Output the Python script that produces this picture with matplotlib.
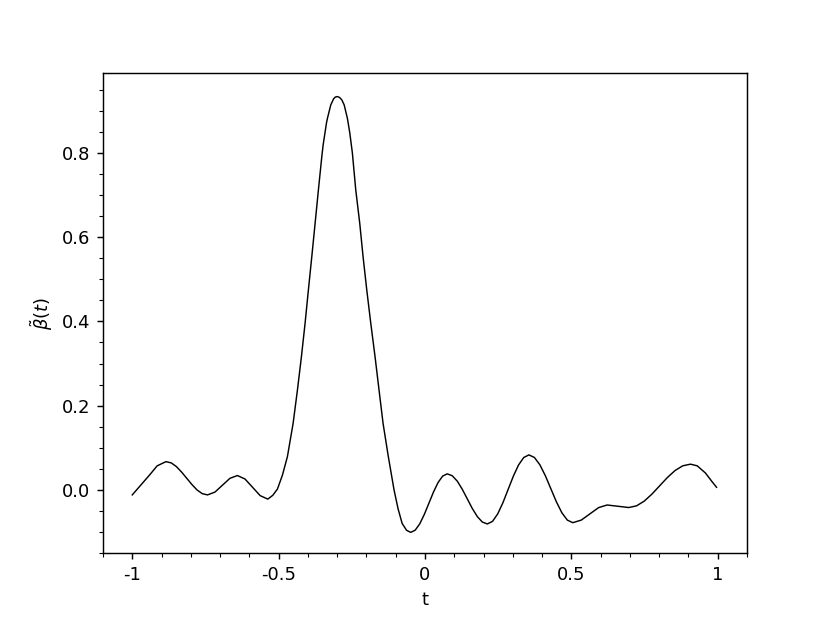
import numpy as np
import matplotlib
matplotlib.use("Agg")
from matplotlib import pyplot as plt
from matplotlib.ticker import MultipleLocator, FixedLocator, FixedFormatter

# curve (t, beta~(t))
t_vals = [-1.0, -0.97, -0.94, -0.915, -0.885, -0.867, -0.8495, -0.832, -0.814,
          -0.796, -0.7785, -0.761, -0.743, -0.7175, -0.692, -0.6665, -0.641,
          -0.615, -0.589, -0.563, -0.537, -0.520, -0.504, -0.487, -0.470,
          -0.4505, -0.4358, -0.4222, -0.4096, -0.3983, -0.3867, -0.3754,
          -0.3642, -0.3526, -0.348, -0.3369, -0.3334, -0.322, -0.312, -0.306,
          -0.2993, -0.292, -0.284, -0.276, -0.265, -0.257,
          -0.2481, -0.2365, -0.2229, -0.2116, -0.1990, -0.1853, -0.1706,
          -0.1570, -0.1433, -0.1253, -0.1058, -0.092, -0.078, -0.063, -0.0488,
          -0.0334, -0.0178, -0.0021, 0.0135, 0.0291, 0.0448, 0.0604, 0.076, 0.0931,
          0.1103, 0.1274, 0.1445, 0.1616, 0.1788, 0.1959, 0.213, 0.2308,
          0.2485, 0.2663, 0.284, 0.3018, 0.3195, 0.3373, 0.355, 0.3738, 0.3925,
          0.4113, 0.43, 0.4488, 0.4675, 0.4863, 0.505, 0.534, 0.5635, 0.593,
          0.622, 0.659, 0.696, 0.7224, 0.7488, 0.7751, 0.8015, 0.8279, 0.8543,
          0.8806, 0.907, 0.93, 0.958, 0.98, 0.996]
beta_vals = [-0.012, 0.012, 0.036, 0.057, 0.067, 0.064, 0.0554, 0.0426, 0.0275,
             0.0124, -0.0004, -0.009, -0.012, -0.0053, 0.011, 0.0273, 0.034,
             0.0258, 0.006, -0.0138, -0.022, -0.013, 0.002, 0.035, 0.079,
             0.158, 0.237, 0.316, 0.396, 0.475, 0.554, 0.633,
             0.712, 0.791, 0.819, 0.870, 0.882, 0.914, 0.929, 0.933,
             0.934, 0.932, 0.926, 0.914, 0.882, 0.848,
             0.800, 0.712, 0.633, 0.554, 0.475, 0.396, 0.316,
             0.237, 0.158, 0.079, 0.000, -0.045, -0.080, -0.096, -0.101,
             -0.0957, -0.0806, -0.058, -0.0315, -0.005, 0.0176, 0.0327, 0.038, 0.0335,
             0.0206, 0.0013, -0.0215, -0.0443, -0.0636, -0.0765, -0.081, -0.0748,
             -0.057, -0.0304, 0.001, 0.0324, 0.059, 0.0768, 0.083, 0.0769, 0.0594,
             0.0333, 0.0025, -0.0283, -0.0544, -0.0719, -0.078, -0.0718, -0.057, -0.0422,
             -0.036, -0.039, -0.042, -0.0381, -0.0269, -0.0102, 0.0095, 0.0292, 0.0459,
             0.0571, 0.061, 0.057, 0.040, 0.020, 0.006]

x_ticks = [-1, -0.5, 0, 0.5, 1]
x_tick_labels = ['-1', '-0.5', '0', '0.5', '1']
y_ticks = [0.0, 0.2, 0.4, 0.6, 0.8]
y_tick_labels = ['0.0', '0.2', '0.4', '0.6', '0.8']

fig = plt.figure(figsize=(830/130, 623/130), dpi=130)
ax = fig.add_subplot(111)
fig.subplots_adjust(left=103/830, right=747/830, top=1-73/623, bottom=1-553/623)
ax.plot(t_vals, beta_vals, color='black', linewidth=0.8)

ax.set_xlim(-1.1, 1.1)
ax.set_ylim(-0.15, 0.99)
ax.xaxis.set_major_locator(FixedLocator(x_ticks))
ax.xaxis.set_major_formatter(FixedFormatter(x_tick_labels))
ax.yaxis.set_major_locator(FixedLocator(y_ticks))
ax.yaxis.set_major_formatter(FixedFormatter(y_tick_labels))
ax.xaxis.set_minor_locator(MultipleLocator(0.1))
ax.yaxis.set_minor_locator(MultipleLocator(0.05))

ax.set_xlabel('t')
ax.set_ylabel(r'$\tilde{\beta}(t)$')

fig.savefig('out.png', dpi=130)
